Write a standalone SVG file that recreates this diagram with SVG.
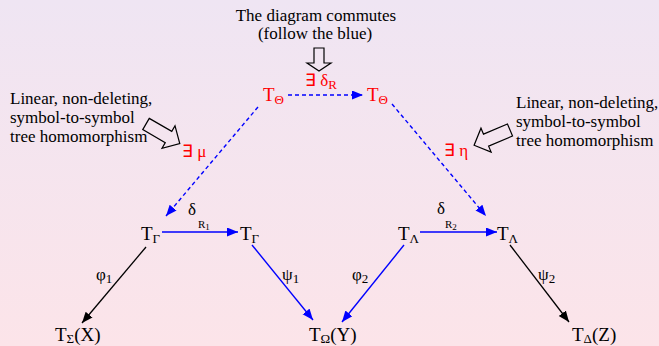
<svg xmlns="http://www.w3.org/2000/svg" width="659" height="346" viewBox="0 0 659 346" font-family="'Liberation Serif', 'Times New Roman', Times, serif">
<defs>
<linearGradient id="bg" x1="0" y1="0" x2="0" y2="1">
<stop offset="0" stop-color="#efe5f3"/>
<stop offset="1" stop-color="#fce4e9"/>
</linearGradient>
<marker id="ab" markerWidth="12" markerHeight="10" refX="11" refY="4.5" orient="auto" markerUnits="userSpaceOnUse">
<path d="M0,0 L11,4.5 L0,9 Z" fill="#0000ff"/>
</marker>
<marker id="ak" markerWidth="12" markerHeight="10" refX="11" refY="4.5" orient="auto" markerUnits="userSpaceOnUse">
<path d="M0,0 L11,4.5 L0,9 Z" fill="#000000"/>
</marker>
<path id="blk" d="M0,-6.5 L26,-6.5 L26,-13 L39,0 L26,13 L26,6.5 L0,6.5 Z"/>
</defs>
<style>
text{fill:#000}
.t{font-size:17px}
.n{font-size:19px}
.s{font-size:13px}
.r{fill:#ff0000}
.blue{stroke:#0000ff;stroke-width:1.4;fill:none}
.dash{stroke:#0000ff;stroke-width:1.4;fill:none;stroke-dasharray:4 3}
.blk{stroke:#000;stroke-width:1.3;fill:none}
.bar{fill:none;stroke:#000;stroke-width:1.2}
</style>
<rect x="0" y="0" width="659" height="346" fill="url(#bg)"/>

<g id="note-top">
<text class="t" x="316" y="21" text-anchor="middle" font-family="Liberation Serif, serif">The diagram commutes</text>
<text class="t" x="315" y="39" text-anchor="middle" font-family="Liberation Serif, serif">(follow the blue)</text>
<path class="bar" d="M314,48 L324,48 L324,63 L331,63 L319,71 L307,63 L314,63 Z"/>
</g>

<g id="note-left" font-family="Liberation Serif, serif">
<text class="t" x="10" y="104">Linear, non-deleting,</text>
<text class="t" x="10" y="123">symbol-to-symbol</text>
<text class="t" x="10" y="142">tree homomorphism</text>
<use href="#blk" class="bar" transform="translate(146,124) rotate(30)"/>
</g>

<g id="note-right" font-family="Liberation Serif, serif">
<text class="t" x="516" y="108">Linear, non-deleting,</text>
<text class="t" x="516" y="127">symbol-to-symbol</text>
<text class="t" x="516" y="146">tree homomorphism</text>
<use href="#blk" class="bar" transform="translate(510,130) rotate(157)"/>
</g>

<g id="connectors">
<line class="dash" x1="288" y1="95" x2="363" y2="95" marker-end="url(#ab)"/>
<line class="dash" x1="258" y1="107" x2="166" y2="216" marker-end="url(#ab)"/>
<line class="dash" x1="392" y1="104" x2="486" y2="216" marker-end="url(#ab)"/>
<line class="blue" x1="162" y1="232" x2="238" y2="232" marker-end="url(#ab)"/>
<line class="blue" x1="420" y1="232" x2="497" y2="232" marker-end="url(#ab)"/>
<line class="blue" x1="252" y1="245" x2="313" y2="320" marker-end="url(#ab)"/>
<line class="blue" x1="404" y1="245" x2="342" y2="322" marker-end="url(#ab)"/>
<line class="blk" x1="146" y1="247" x2="82" y2="323" marker-end="url(#ak)"/>
<line class="blk" x1="510" y1="245" x2="569" y2="322" marker-end="url(#ak)"/>
</g>

<g id="labels" font-family="Liberation Serif, serif">
<text class="t r" x="305" y="86">∃ δ<tspan class="s" dy="3">R</tspan></text>
<text class="t r" x="182" y="157">∃ μ</text>
<text class="t r" x="444" y="156">∃ η</text>
<text class="t" x="188" y="215">δ</text>
<text x="198" y="228" font-size="11">R<tspan dy="2" font-size="9">1</tspan></text>
<text class="t" x="437" y="214">δ</text>
<text x="445" y="228" font-size="11">R<tspan dy="2" font-size="9">2</tspan></text>
<text class="t" x="96" y="280">φ<tspan class="s" dy="3">1</tspan></text>
<text class="t" x="282" y="280">ψ<tspan class="s" dy="3">1</tspan></text>
<text class="t" x="352" y="280">φ<tspan class="s" dy="3">2</tspan></text>
<text class="t" x="538" y="280">ψ<tspan class="s" dy="3">2</tspan></text>
</g>

<g font-family="Liberation Serif, serif">
<g id="node-theta-left"><text class="n r" x="263" y="101">T<tspan class="s" dy="3">Θ</tspan></text></g>
<g id="node-theta-right"><text class="n r" x="367" y="101">T<tspan class="s" dy="3">Θ</tspan></text></g>
<g id="node-gamma-left"><text class="n" x="141" y="240">T<tspan class="s" dy="3">Γ</tspan></text></g>
<g id="node-gamma-right"><text class="n" x="240" y="240">T<tspan class="s" dy="3">Γ</tspan></text></g>
<g id="node-lambda-left"><text class="n" x="398" y="240">T<tspan class="s" dy="3">Λ</tspan></text></g>
<g id="node-lambda-right"><text class="n" x="497" y="240">T<tspan class="s" dy="3">Λ</tspan></text></g>
<g id="node-sigma"><text class="n" x="55" y="341">T<tspan class="s" dy="2">Σ</tspan><tspan dy="-2">(X)</tspan></text></g>
<g id="node-omega"><text class="n" x="309" y="341">T<tspan class="s" dy="2">Ω</tspan><tspan dy="-2">(Y)</tspan></text></g>
<g id="node-delta"><text class="n" x="572" y="341">T<tspan class="s" dy="2">Δ</tspan><tspan dy="-2">(Z)</tspan></text></g>
</g>
</svg>
